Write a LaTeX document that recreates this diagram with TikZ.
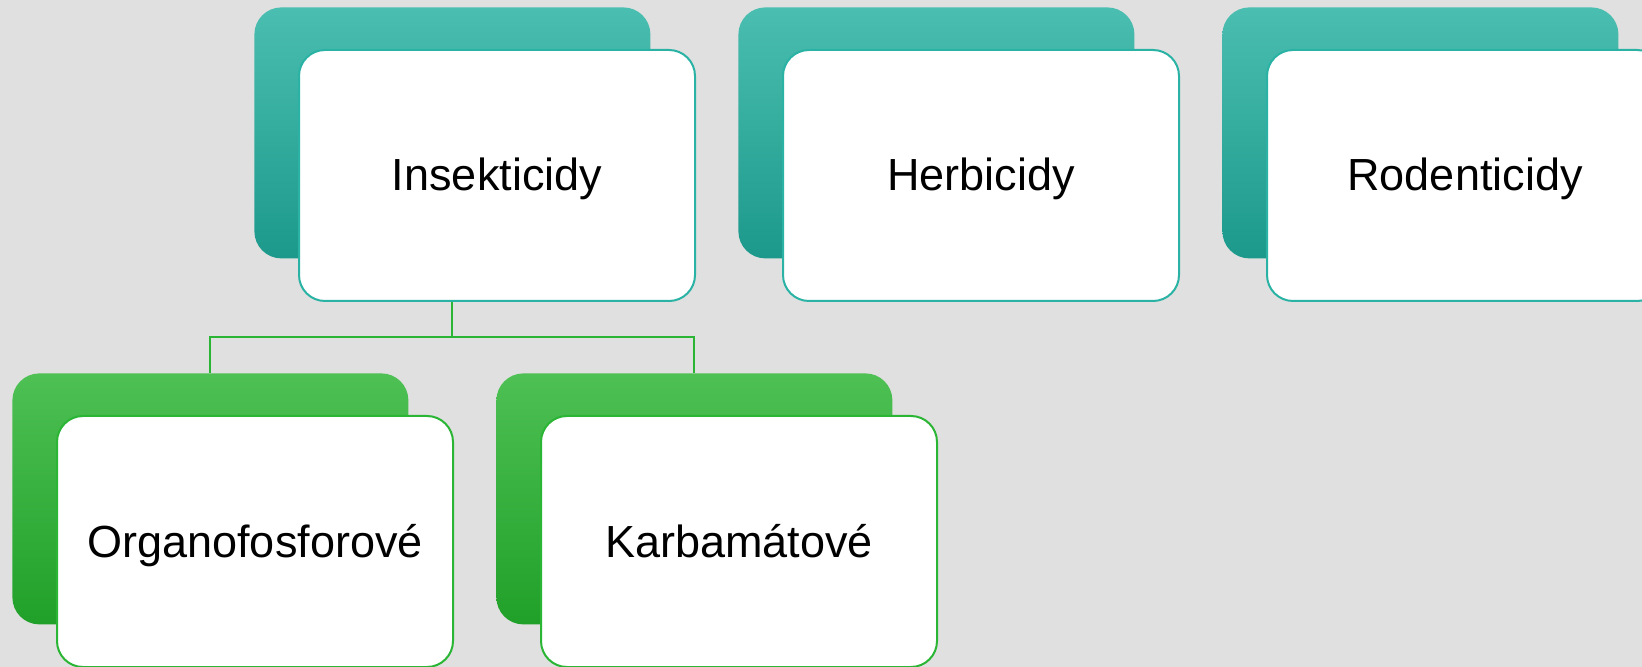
\documentclass[tikz,border=0pt]{standalone}
\usepackage{fontspec}
\setmainfont{Liberation Sans}
\begin{document}
\begin{tikzpicture}[x=0.5pt,y=-0.5pt,
  backbox/.style={rectangle,rounded corners=13.5pt,minimum width=198pt,minimum height=125.5pt,inner sep=0pt,anchor=north west},
  tealback/.style={backbox,top color=tealtop,bottom color=tealbot},
  greenback/.style={backbox,top color=greentop,bottom color=greenbot},
  frontbox/.style={rectangle,rounded corners=13pt,minimum width=198pt,minimum height=125.5pt,inner sep=0pt,anchor=north west,fill=white,line width=1pt,font=\fontsize{22.5pt}{27pt}\selectfont,text=black,text depth=1pt},
  tealfront/.style={frontbox,draw=tealline},
  greenfront/.style={frontbox,draw=greenline},
  conn/.style={draw=greenline,line width=1pt}]
\definecolor{bg}{HTML}{E0E0E0}
\definecolor{tealtop}{HTML}{4ABEB0}
\definecolor{tealbot}{HTML}{1C998B}
\definecolor{tealline}{HTML}{2AB3A4}
\definecolor{greentop}{HTML}{4EC054}
\definecolor{greenbot}{HTML}{20A029}
\definecolor{greenline}{HTML}{2BB535}
\useasboundingbox (0,0) rectangle (1642,667);
\clip (0,0) rectangle (1642,667);
\fill[bg] (0,0) rectangle (1642,667);
% top row
\node[tealback] (insB) at (254,7) {};
\node[tealfront] (insF) at (298,49) {Insekticidy};
\node[tealback] (herB) at (738,7) {};
\node[tealfront] (herF) at (782,49) {Herbicidy};
\node[tealback] (rodB) at (1222,7) {};
\node[tealfront] (rodF) at (1266,49) {Rodenticidy};
% bottom row
\node[greenback] (orgB) at (12,373) {};
\node[greenfront] (orgF) at (56,415) {Organofosforové};
\node[greenback] (karB) at (496,373) {};
\node[greenfront] (karF) at (540,415) {Karbamátové};
% connectors
\coordinate (split) at (insB.center |- 0,337);
\draw[conn] (insF.south -| insB.center) -- (split);
\draw[conn] (split) -| (orgB.north);
\draw[conn] (split) -| (karB.north);
\end{tikzpicture}
\end{document}
